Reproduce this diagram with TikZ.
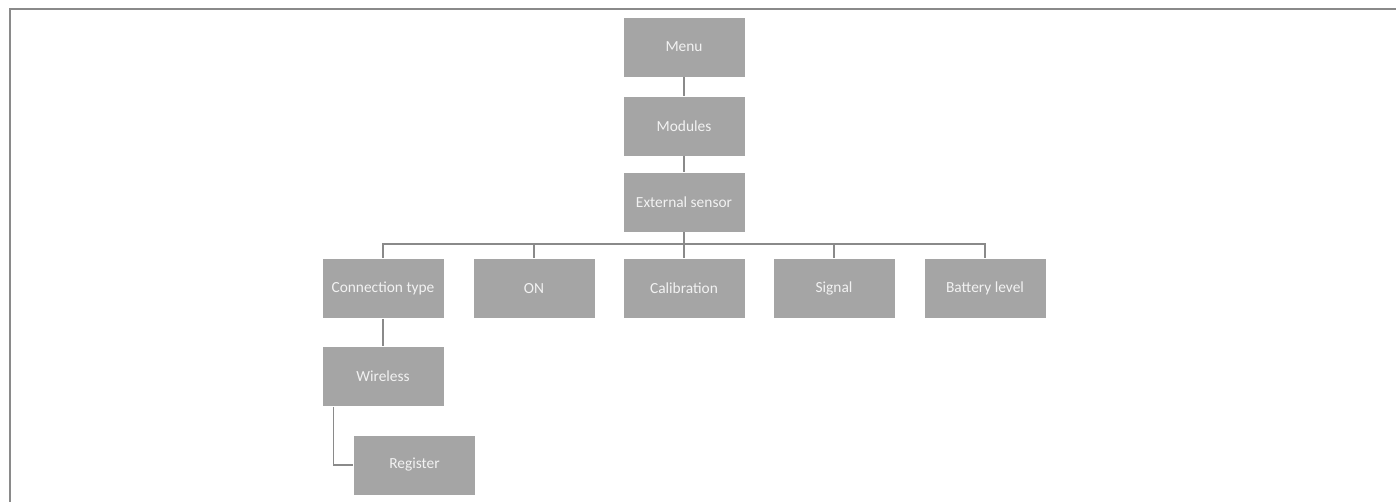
\documentclass[tikz,border=0pt]{standalone}
\usepackage{fontspec}
\setmainfont{Carlito}
\definecolor{boxgray}{HTML}{A5A5A5}
\definecolor{linegray}{HTML}{8A8A8A}
\definecolor{txt}{HTML}{F2F2F2}
\begin{document}
\begin{tikzpicture}[x=1pt,y=-1pt,
  box/.style={fill=boxgray,draw=white,line width=0.8pt,minimum width=122pt,minimum height=60pt,inner sep=0pt,text=txt,font=\fontsize{15.4}{18}\selectfont},
  conn/.style={draw=linegray,line width=1.4pt}]
\useasboundingbox (0,0) rectangle (1396,502);
\draw[draw=linegray,line width=2pt] (10,502) -- (10,9) -- (1396,9);
\node[box] (menu) at (684,47) {Menu};
\node[box] (mod) at (684,126) {Modules};
\node[box] (ext) at (684,202) {External sensor};
\node[box] (ct) at (383,288.5) {Connection type};
\node[box] (on) at (534,288.5) {ON};
\node[box] (cal) at (684,288.5) {Calibration};
\node[box] (sig) at (834,288.5) {Signal};
\node[box] (bat) at (985,288.5) {Battery level};
\node[box] (wl) at (383,376.5) {Wireless};
\node[box] (reg) at (414.5,465) {Register};
\coordinate (bus) at (684,244);
\draw[conn] (menu) -- (mod);
\draw[conn] (mod) -- (ext);
\draw[conn] (ext) -- (bus);
\foreach \n in {ct,on,cal,sig,bat}{
  \draw[conn] (bus) -| (\n.north);
}
\draw[conn] (ct) -- (wl);
\draw[conn] (wl.south west) ++(12,0) |- (reg.west);
\end{tikzpicture}
\end{document}
